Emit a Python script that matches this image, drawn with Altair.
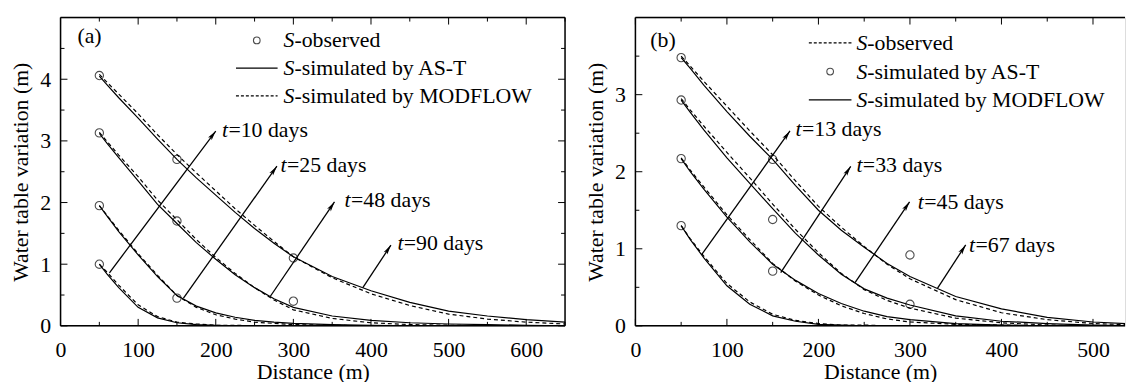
import math
import altair as alt
import pandas as pd

FONT = "Liberation Serif"
FS = 22

# ---------------- panel (a) data ----------------
A_X = [50, 60, 75, 100, 125, 150, 175, 200, 225, 250, 275, 300, 350, 400, 450, 500, 550, 600, 650]
A_T10_AST = [1.00, 0.84, 0.62, 0.30, 0.13, 0.05, 0.02, 0.01, 0.00, 0.00, 0.00, 0.00, 0.00, 0.00, 0.00, 0.00, 0.00, 0.00, 0.00]
A_T10_MOD = [1.00, 0.87, 0.66, 0.34, 0.15, 0.06, 0.03, 0.01, 0.01, 0.00, 0.00, 0.00, 0.00, 0.00, 0.00, 0.00, 0.00, 0.00, 0.00]
A_T25_AST = [1.95, 1.78, 1.53, 1.15, 0.80, 0.49, 0.32, 0.21, 0.14, 0.09, 0.06, 0.04, 0.02, 0.01, 0.00, 0.00, 0.00, 0.00, 0.00]
A_T25_MOD = [1.95, 1.79, 1.55, 1.17, 0.82, 0.49, 0.30, 0.18, 0.11, 0.06, 0.04, 0.02, 0.01, 0.00, 0.00, 0.00, 0.00, 0.00, 0.00]
A_T48_AST = [3.12, 2.96, 2.73, 2.35, 1.97, 1.66, 1.35, 1.08, 0.83, 0.62, 0.44, 0.30, 0.16, 0.09, 0.05, 0.03, 0.02, 0.01, 0.00]
A_T48_MOD = [3.14, 2.99, 2.77, 2.42, 2.04, 1.72, 1.40, 1.11, 0.85, 0.62, 0.42, 0.26, 0.12, 0.05, 0.02, 0.01, 0.00, 0.00, 0.00]
A_T90_AST = [4.05, 3.91, 3.70, 3.37, 3.03, 2.70, 2.40, 2.12, 1.84, 1.58, 1.34, 1.12, 0.80, 0.57, 0.38, 0.24, 0.16, 0.10, 0.06]
A_T90_MOD = [4.08, 3.95, 3.76, 3.44, 3.10, 2.78, 2.48, 2.19, 1.90, 1.63, 1.37, 1.12, 0.78, 0.52, 0.33, 0.19, 0.11, 0.06, 0.03]
A_OBS_X = [50, 50, 50, 50, 150, 150, 150, 300, 300]
A_OBS_Y = [4.06, 3.13, 1.95, 1.00, 2.70, 1.70, 0.45, 1.10, 0.40]
A_ARR_X0 = [63, 158.4, 270.4, 389.5]
A_ARR_Y0 = [0.86, 0.45, 0.48, 0.62]
A_ARR_X1 = [200, 278.8, 353, 425.7]
A_ARR_Y1 = [3.16, 2.59, 2.01, 1.31]
A_LAB_X = [208, 283.5, 366, 434]
A_LAB_Y = [3.17, 2.60, 2.04, 1.34]
A_LAB_TXT = ["=10 days", "=25 days", "=48 days", "=90 days"]

# ---------------- panel (b) data ----------------
B_X = [50, 60, 75, 100, 125, 150, 175, 200, 225, 250, 275, 300, 350, 400, 450, 500, 550]
B_T13_SOLID = [1.30, 1.12, 0.88, 0.52, 0.28, 0.13, 0.06, 0.02, 0.01, 0.00, 0.00, 0.00, 0.00, 0.00, 0.00, 0.00, 0.00]
B_T13_DASH = [1.30, 1.13, 0.90, 0.55, 0.31, 0.15, 0.07, 0.03, 0.01, 0.01, 0.00, 0.00, 0.00, 0.00, 0.00, 0.00, 0.00]
B_T33_SOLID = [2.17, 2.00, 1.77, 1.41, 1.09, 0.80, 0.59, 0.42, 0.29, 0.19, 0.12, 0.08, 0.03, 0.01, 0.00, 0.00, 0.00]
B_T33_DASH = [2.18, 2.02, 1.80, 1.44, 1.12, 0.81, 0.58, 0.40, 0.26, 0.16, 0.09, 0.05, 0.02, 0.01, 0.00, 0.00, 0.00]
B_T45_SOLID = [2.93, 2.77, 2.54, 2.18, 1.85, 1.52, 1.20, 0.92, 0.67, 0.48, 0.36, 0.27, 0.13, 0.06, 0.03, 0.01, 0.00]
B_T45_DASH = [2.95, 2.80, 2.59, 2.25, 1.92, 1.58, 1.25, 0.95, 0.68, 0.47, 0.33, 0.23, 0.10, 0.04, 0.01, 0.00, 0.00]
B_T67_SOLID = [3.48, 3.34, 3.12, 2.78, 2.46, 2.16, 1.82, 1.50, 1.24, 1.02, 0.81, 0.64, 0.38, 0.22, 0.11, 0.05, 0.02]
B_T67_DASH = [3.50, 3.37, 3.17, 2.85, 2.53, 2.22, 1.88, 1.55, 1.28, 1.03, 0.80, 0.61, 0.34, 0.17, 0.08, 0.03, 0.01]
B_OBS_X = [50, 50, 50, 50, 150, 150, 150, 300, 300]
B_OBS_Y = [3.48, 2.93, 2.17, 1.30, 2.16, 1.38, 0.71, 0.92, 0.28]
B_ARR_X0 = [72.2, 158.8, 240, 330.2]
B_ARR_Y0 = [0.92, 0.69, 0.56, 0.49]
B_ARR_X1 = [168.9, 235.3, 299.6, 360.9]
B_ARR_Y1 = [2.53, 2.07, 1.61, 1.05]
B_LAB_X = [175, 241.5, 308.6, 364.6]
B_LAB_Y = [2.55, 2.08, 1.61, 1.05]
B_LAB_TXT = ["=13 days", "=33 days", "=45 days", "=67 days"]

ARROW_PATH = "M0,0L0.45,2L0,1.55L-0.45,2Z"


def curves(xs, series):
    rows = []
    for name, vals in series:
        for x, y in zip(xs, vals):
            rows.append({"curve": name, "x": x, "y": y})
    return pd.DataFrame(rows)


def one():
    return alt.Chart(pd.DataFrame({"a": [0]}))


def panel(W, H, xdom, ydom, xmaj, xmin, ymaj, ymin, solid, dashed,
          obs_x, obs_y, ax0, ay0, ax1, ay1, lx, ly, ltxt,
          legend, tag, tagpos, right_frame=True):
    xs = alt.Scale(domain=xdom, nice=False, zero=False)
    ys = alt.Scale(domain=ydom, nice=False, zero=False)
    kx = W / (xdom[1] - xdom[0])
    ky = H / (ydom[1] - ydom[0])
    common = dict(ticks=False, domain=False, grid=False, labelFlush=False,
                  labelFont=FONT, labelFontSize=FS, labelColor="black",
                  titleFont=FONT, titleFontSize=FS, titleFontWeight="normal",
                  titleColor="black")
    xaxis = alt.Axis(values=xmaj, title="Distance (m)", labelPadding=14,
                     titlePadding=1, **common)
    yaxis = alt.Axis(values=ymaj, title="Water table variation (m)", labelPadding=10,
                     titlePadding=7, **common)
    X = lambda f: alt.X(f, scale=xs, axis=xaxis)
    Y = lambda f: alt.Y(f, scale=ys, axis=yaxis)

    layers = []
    layers.append(
        alt.Chart(solid).mark_line(color="black", strokeWidth=1.2, clip=True).encode(
            x=X("x:Q"), y=Y("y:Q"), detail="curve:N")
    )
    layers.append(
        alt.Chart(dashed).mark_line(color="black", strokeWidth=1.2, strokeDash=[4, 3],
                                    clip=True).encode(
            x=X("x:Q"), y=Y("y:Q"), detail="curve:N")
    )
    obs = pd.DataFrame({"x": obs_x, "y": obs_y})
    layers.append(
        alt.Chart(obs).mark_point(shape="circle", size=70, filled=False, color="black",
                                  strokeWidth=1.1).encode(x=X("x:Q"), y=Y("y:Q"))
    )
    arr = pd.DataFrame({"x": ax0, "y": ay0, "x1": ax1, "y1": ay1})
    arr["ang"] = [
        (math.degrees(math.atan2((b - a) * kx, (d - c) * ky)) + 360) % 360
        for a, b, c, d in zip(ax0, ax1, ay0, ay1)
    ]
    layers.append(
        alt.Chart(arr).mark_rule(color="black", strokeWidth=1.3).encode(
            x=X("x:Q"), y=Y("y:Q"), x2="x1:Q", y2="y1:Q")
    )
    head = pd.DataFrame({"x": ax1, "y": ay1, "ang": arr["ang"]})
    layers.append(
        alt.Chart(head).mark_point(shape=ARROW_PATH, size=100, filled=True, color="black",
                                   opacity=1).encode(
            x=X("x:Q"), y=Y("y:Q"), angle=alt.Angle("ang:Q", scale=None))
    )
    lab = pd.DataFrame({"x": lx, "y": ly, "txt": ltxt})
    layers.append(
        alt.Chart(lab).mark_text(text="t", font=FONT, fontSize=FS, fontStyle="italic",
                                 align="left", baseline="middle", color="black").encode(
            x=X("x:Q"), y=Y("y:Q"))
    )
    layers.append(
        alt.Chart(lab).mark_text(font=FONT, fontSize=FS, align="left", baseline="middle",
                                 dx=6.5, color="black").encode(
            x=X("x:Q"), y=Y("y:Q"), text="txt:N")
    )
    # frame
    fr = dict(color="black", strokeWidth=1.5)
    layers.append(one().mark_rule(**fr).encode(
        x=alt.value(0), x2=alt.value(W), y=alt.value(H)))
    layers.append(one().mark_rule(**fr).encode(
        x=alt.value(0), x2=alt.value(W), y=alt.value(0)))
    layers.append(one().mark_rule(**fr).encode(
        x=alt.value(0), y=alt.value(0), y2=alt.value(H)))
    if right_frame:
        layers.append(one().mark_rule(**fr).encode(
            x=alt.value(W), y=alt.value(0), y2=alt.value(H)))
    # inward ticks
    for vals, size in ((xmaj, 7), (xmin, 4)):
        d = pd.DataFrame({"x": vals})
        layers.append(alt.Chart(d).mark_rule(color="black", strokeWidth=1).encode(
            x=X("x:Q"), y=alt.value(H), y2=alt.value(H - size)))
        layers.append(alt.Chart(d).mark_rule(color="black", strokeWidth=1).encode(
            x=X("x:Q"), y=alt.value(0), y2=alt.value(size)))
    for vals, size in ((ymaj, 7), (ymin, 4)):
        d = pd.DataFrame({"y": vals})
        layers.append(alt.Chart(d).mark_rule(color="black", strokeWidth=1).encode(
            y=Y("y:Q"), x=alt.value(0), x2=alt.value(size)))
        if right_frame:
            layers.append(alt.Chart(d).mark_rule(color="black", strokeWidth=1).encode(
                y=Y("y:Q"), x=alt.value(W), x2=alt.value(W - size)))
    # legend (drawn by hand)
    for kind, lx0, lx1, ly_, text_x, words in legend:
        if kind == "circle":
            layers.append(one().mark_point(
                shape="circle", size=45, filled=False, color="black", strokeWidth=1.1).encode(
                x=alt.value((lx0 + lx1) / 2), y=alt.value(ly_)))
        else:
            kw = {"strokeDash": [3, 2]} if kind == "dash" else {}
            layers.append(one().mark_rule(
                color="black", strokeWidth=1.2, **kw).encode(
                x=alt.value(lx0), x2=alt.value(lx1), y=alt.value(ly_)))
        layers.append(one().mark_text(
            text="S", font=FONT, fontSize=FS, fontStyle="italic", align="left",
            baseline="middle", color="black").encode(
            x=alt.value(text_x), y=alt.value(ly_)))
        layers.append(one().mark_text(
            text=words, font=FONT, fontSize=FS, align="left", baseline="middle",
            dx=11, color="black").encode(
            x=alt.value(text_x), y=alt.value(ly_)))
    layers.append(one().mark_text(
        text=tag, font=FONT, fontSize=FS, align="left", baseline="middle",
        color="black").encode(x=alt.value(tagpos[0]), y=alt.value(tagpos[1])))
    return alt.layer(*layers).properties(width=W, height=H)


solid_a = curves(A_X, [("10", A_T10_AST), ("25", A_T25_AST), ("48", A_T48_AST), ("90", A_T90_AST)])
dash_a = curves(A_X, [("10", A_T10_MOD), ("25", A_T25_MOD), ("48", A_T48_MOD), ("90", A_T90_MOD)])
solid_b = curves(B_X, [("13", B_T13_SOLID), ("33", B_T33_SOLID), ("45", B_T45_SOLID), ("67", B_T67_SOLID)])
dash_b = curves(B_X, [("13", B_T13_DASH), ("33", B_T33_DASH), ("45", B_T45_DASH), ("67", B_T67_DASH)])

legend_a = [
    ("circle", 177, 219, 23, 225, "-observed"),
    ("solid", 177, 219, 51, 225, "-simulated by AS-T"),
    ("dash", 177, 219, 79, 225, "-simulated by MODFLOW"),
]
legend_b = [
    ("dash", 175, 218, 25.5, 223, "-observed"),
    ("circle", 175, 218, 54.5, 223, "-simulated by AS-T"),
    ("solid", 175, 218, 83, 223, "-simulated by MODFLOW"),
]

chart_a = panel(509, 311, [0, 650], [0, 5],
                [0, 100, 200, 300, 400, 500, 600], [50, 150, 250, 350, 450, 550, 650],
                [0, 1, 2, 3, 4], [0.5, 1.5, 2.5, 3.5, 4.5],
                solid_a, dash_a, A_OBS_X, A_OBS_Y,
                A_ARR_X0, A_ARR_Y0, A_ARR_X1, A_ARR_Y1, A_LAB_X, A_LAB_Y, A_LAB_TXT,
                legend_a, "(a)", (17, 19))
chart_b = panel(494, 311, [0, 535], [0, 4],
                [0, 100, 200, 300, 400, 500], [50, 150, 250, 350, 450],
                [0, 1, 2, 3], [0.5, 1.5, 2.5, 3.5],
                solid_b, dash_b, B_OBS_X, B_OBS_Y,
                B_ARR_X0, B_ARR_Y0, B_ARR_X1, B_ARR_Y1, B_LAB_X, B_LAB_Y, B_LAB_TXT,
                legend_b, "(b)", (15, 23), right_frame=False)

chart = alt.hconcat(chart_a, chart_b, spacing=17).properties(
    padding={"left": 1, "top": 6, "right": 0, "bottom": 0}
).configure_view(stroke=None).configure(background="white")

chart.save("out.html", embed_options={"renderer": "svg", "actions": False})
